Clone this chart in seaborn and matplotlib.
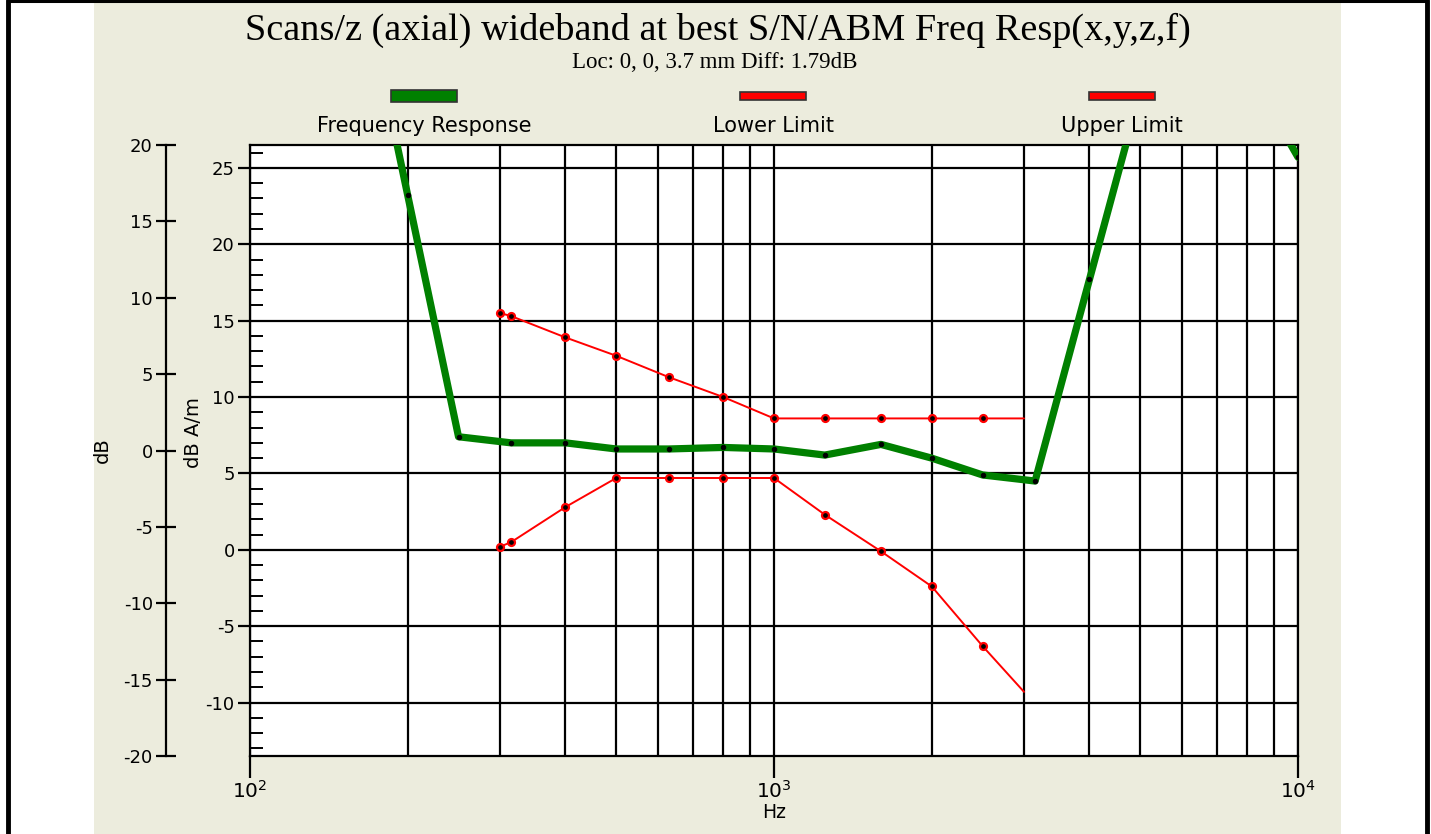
import numpy as np
import pandas as pd
import seaborn as sns
import matplotlib.pyplot as plt
from matplotlib.patches import Rectangle
from matplotlib.lines import Line2D
from matplotlib.ticker import FixedLocator, NullFormatter

# frequency response (dB A/m); the first and last few points run off the top of the plot
resp_freq = [160, 200, 250, 315, 400, 500, 630, 800, 1000, 1250, 1600, 2000, 2500, 3150,
             4000, 5000, 6300, 8000, 10000]
resp_db = [39.0, 23.2, 7.4, 7.0, 7.0, 6.6, 6.6, 6.7, 6.6, 6.2, 6.9, 6.0, 4.9, 4.5,
           17.7, 30.0, 36.0, 31.5, 25.7]

limit_freq = [300, 315, 400, 500, 630, 800, 1000, 1250, 1600, 2000, 2500, 3000]
lower_db = [0.2, 0.5, 2.8, 4.7, 4.7, 4.7, 4.7, 2.3, -0.1, -2.4, -6.3, -9.3]
upper_db = [15.5, 15.3, 13.9, 12.7, 11.3, 10.0, 8.6, 8.6, 8.6, 8.6, 8.6, 8.6]

legend_names = ['Frequency Response', 'Lower Limit', 'Upper Limit']

BEIGE = '#ECECDD'
GREEN = '#008000'
RED = '#FF0000'
YLIM = (-13.5, 26.5)
DB_OFFSET = 6.5

sns.set_style('white')
plt.rcParams['font.family'] = ['DejaVu Sans']
plt.rcParams['axes.unicode_minus'] = False
for k in ['text.color', 'axes.labelcolor', 'xtick.color', 'ytick.color']:
    plt.rcParams[k] = 'black'

W, H = 1431, 834
fig = plt.figure(figsize=(W / 100, H / 100), dpi=100, facecolor='white')

def fx(px):
    return px / W

def fy(py):
    return 1 - py / H

# beige panel and black screenshot frame
fig.patches.append(Rectangle((fx(94), 0), fx(1341 - 94), fy(3), transform=fig.transFigure,
                             facecolor=BEIGE, edgecolor='none', zorder=-10))
fig.add_artist(Line2D([fx(8), fx(8)], [0, 1], color='black', lw=3.5, transform=fig.transFigure))
fig.add_artist(Line2D([fx(1427), fx(1427)], [0, 1], color='black', lw=3.5, transform=fig.transFigure))
fig.add_artist(Line2D([fx(8), fx(1427)], [fy(1), fy(1)], color='black', lw=2.2, transform=fig.transFigure))

pos = [fx(250), fy(756), fx(1298 - 250), fy(145) - fy(756)]

# secondary dB axis (left, offset outward)
ax2 = fig.add_axes(pos)
ax2.patch.set_visible(False)
for s in ['top', 'right', 'bottom']:
    ax2.spines[s].set_visible(False)
ax2.spines['left'].set_position(('outward', 84 * 0.72))
ax2.spines['left'].set_linewidth(1.6)
ax2.spines['left'].set_color('black')
ax2.set_ylim(YLIM[0] - DB_OFFSET, YLIM[1] - DB_OFFSET)
ax2.set_yticks(np.arange(-20, 21, 5))
ax2.tick_params(axis='y', direction='inout', length=15, width=1.6, labelsize=13,
                pad=2, left=True)
ax2.set_xticks([])
ax2.set_ylabel('dB', fontsize=14, labelpad=8)

# main axes
ax = fig.add_axes(pos)
ax.set_facecolor('white')
ax.set_xscale('log')
ax.set_xlim(100, 10000)
ax.set_ylim(*YLIM)

df_resp = pd.DataFrame({'freq': resp_freq, 'db': resp_db})
df_lim = pd.DataFrame({'freq': limit_freq, 'lower': lower_db, 'upper': upper_db})

sns.lineplot(data=df_resp, x='freq', y='db', ax=ax, color=GREEN, linewidth=5.2,
             marker='o', markersize=3.2, markerfacecolor='black', markeredgecolor='black',
             sort=False, zorder=4)
nlim = len(limit_freq)
for col in ['lower', 'upper']:
    sns.lineplot(data=df_lim, x='freq', y=col, ax=ax, color=RED, linewidth=1.4,
                 marker='o', markersize=5, markerfacecolor='black', markeredgecolor=RED,
                 markeredgewidth=1.6, markevery=list(range(nlim - 1)), sort=False, zorder=5)

# grid
ax.set_yticks(np.arange(-10, 26, 5))
ax.yaxis.set_minor_locator(FixedLocator([v for v in range(-13, 27) if v % 5 != 0]))
ax.xaxis.set_major_locator(FixedLocator([100, 1000, 10000]))
ax.xaxis.set_minor_locator(FixedLocator([m * d for d in (100, 1000) for m in range(2, 10)]))
ax.xaxis.set_minor_formatter(NullFormatter())
ax.set_xticklabels([r'$10^2$', r'$10^3$', r'$10^4$'])
ax.grid(True, which='major', color='black', linewidth=1.6)
ax.grid(True, which='minor', axis='x', color='black', linewidth=1.6)
ax.set_axisbelow(True)
for s in ax.spines.values():
    s.set_color('black')
    s.set_linewidth(1.6)
ax.tick_params(axis='y', which='major', direction='out', length=9, width=1.6,
               labelsize=13, pad=2, left=True)
ax.tick_params(axis='y', which='minor', direction='in', length=9, width=1.4, left=True)
ax.tick_params(axis='x', which='major', direction='out', length=16, width=1.6,
               labelsize=14.5, pad=1, bottom=True)
ax.tick_params(axis='x', which='minor', length=0)
ax.set_xlabel('Hz', fontsize=13.5, labelpad=1)
ax.set_ylabel('dB A/m', fontsize=14)
ax.yaxis.set_label_coords((203 - 250) / (1298 - 250), 0.53)

# titles
fig.text(fx(718), fy(30), 'Scans/z (axial) wideband at best S/N/ABM Freq Resp(x,y,z,f)',
         ha='center', va='center', fontsize=27.5, family='Liberation Serif')
fig.text(fx(715), fy(62), 'Loc: 0, 0, 3.7 mm Diff: 1.79dB', ha='center', va='center',
         fontsize=16.5, family='Liberation Serif')

# legend boxes across the top
leg_x = [424, 773, 1122]
leg_colors = [GREEN, RED, RED]
leg_h = [12, 7, 7]
for name, cx, c, h in zip(legend_names, leg_x, leg_colors, leg_h):
    fig.patches.append(Rectangle((fx(cx - 33), fy(96 + h / 2)), fx(66), fy(96 - h / 2) - fy(96 + h / 2),
                                 transform=fig.transFigure, facecolor=c, edgecolor='#333333',
                                 linewidth=1.2))
    fig.text(fx(cx), fy(126), name, ha='center', va='center', fontsize=15)

fig.savefig('out.png', dpi=100, facecolor='white')
